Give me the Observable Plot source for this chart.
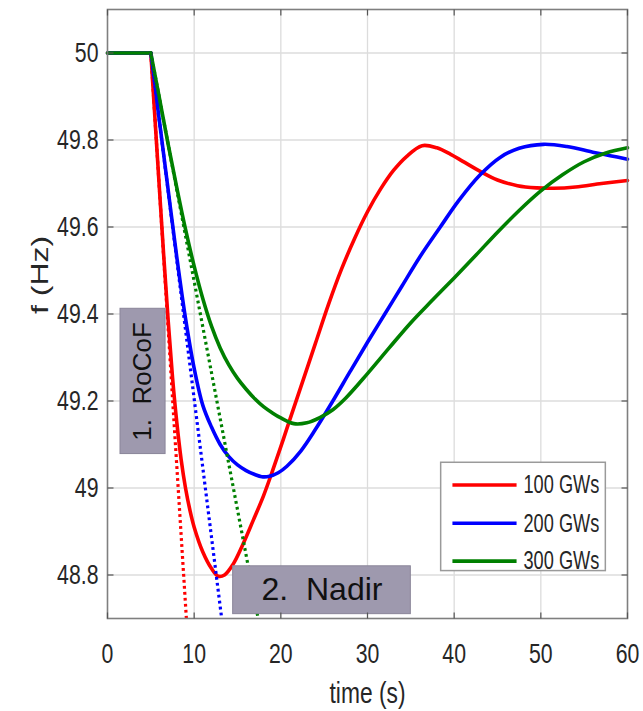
<!DOCTYPE html>
<html><head><meta charset="utf-8">
<script src="https://cdn.jsdelivr.net/npm/d3@7"></script>
<script src="https://cdn.jsdelivr.net/npm/@observablehq/plot@0.6"></script>
<style>
html,body{margin:0;padding:0;background:#fff;overflow:hidden}
svg text{white-space:pre}
</style>
</head><body><div id="chart"></div>
<script>
// ---- data ----
const series = ["100 GWs", "200 GWs", "300 GWs"];
const colors = ["#ff0000", "#0000ff", "#008000"];
// initial rate of change of frequency (tangent slope, Hz/s)
const rocof = [0.317, 0.159, 0.105];

const t100 = [0, 5, 5.5, 6, 6.5, 7, 7.5, 8, 8.5, 9, 9.5, 10, 11, 12, 12.8, 13.5, 14.5, 15.5, 16.8, 18, 19, 20, 21, 22.3, 24, 25.5, 27, 28.5, 30, 31.5, 33, 34.5, 36.3, 38, 39.6, 41, 43, 45, 47.3, 49.5, 51.5, 54, 57, 60];
const f100 = [50, 50, 49.842, 49.685, 49.53, 49.385, 49.255, 49.15, 49.065, 49.0, 48.95, 48.91, 48.853, 48.815, 48.797, 48.80, 48.825, 48.865, 48.925, 48.982, 49.037, 49.095, 49.155, 49.232, 49.333, 49.422, 49.503, 49.573, 49.635, 49.687, 49.73, 49.762, 49.787, 49.782, 49.767, 49.751, 49.728, 49.708, 49.695, 49.69, 49.689, 49.692, 49.70, 49.707];

const t200 = [0, 5, 6, 7, 8, 9, 10, 11, 12, 13, 14, 15, 16, 17, 17.8, 18.7, 19.7, 20.7, 22.3, 24, 26, 28, 30, 32, 34, 36, 38.4, 40.5, 43, 45.3, 47.5, 50.3, 53, 56, 58, 60];
const f200 = [50, 50, 49.842, 49.685, 49.53, 49.39, 49.275, 49.19, 49.14, 49.10, 49.072, 49.053, 49.04, 49.031, 49.026, 49.027, 49.035, 49.05, 49.085, 49.135, 49.2, 49.268, 49.335, 49.4, 49.465, 49.53, 49.6, 49.66, 49.72, 49.76, 49.781, 49.79, 49.785, 49.772, 49.764, 49.756];

const t300 = [0, 5, 6, 7, 8, 9, 10, 11, 12, 13, 14, 15, 16, 17, 18, 19, 20, 21.5, 23, 24.5, 26, 27.5, 30, 32.5, 35, 37.5, 40, 42.5, 45, 47.5, 50, 52.5, 55, 57.5, 60];
const f300 = [50, 50, 49.895, 49.79, 49.69, 49.595, 49.51, 49.435, 49.372, 49.322, 49.283, 49.252, 49.227, 49.205, 49.187, 49.173, 49.161, 49.148, 49.150, 49.162, 49.18, 49.207, 49.263, 49.322, 49.38, 49.432, 49.483, 49.535, 49.588, 49.638, 49.683, 49.72, 49.75, 49.77, 49.782];

const xTicks = [0, 10, 20, 30, 40, 50, 60];
const yTicks = [48.8, 49, 49.2, 49.4, 49.6, 49.8, 50];
const yTickLabels = ["48.8", "49", "49.2", "49.4", "49.6", "49.8", "50"];
const xLabel = "time (s)";
const yLabel = "f (Hz)";
const annotationLabels = ["1.  RoCoF", "2.  Nadir"];

// ---- layout (not data) ----
const xDomain = [0, 60], yDomain = [48.7, 50.1];
const annotationBoxes = [
  {x1: 1.5, x2: 6.7, y1: 49.078, y2: 49.412, rotate: -90, size: 26},
  {x1: 14.5, x2: 35.0, y1: 48.710, y2: 48.820, rotate: 0, size: 32}
];
const legendLayout = {x1: 38.5, x2: 57.5, y1: 48.809, y2: 49.058, lineX1: 39.8, lineX2: 47.2, textX: 48.0, rows: [49.007, 48.919, 48.832]};

// ---- build tables ----
const times = [t100, t200, t300], freqs = [f100, f200, f300];
const lineRows = [];
series.forEach((s, i) => {
  times[i].forEach((t, j) => {
    if (j <= 1) lineRows.push({series: s, seg: s + "-pre", t, f: freqs[i][j]});
    if (j >= 1) lineRows.push({series: s, seg: s + "-post", t, f: freqs[i][j]});
  });
});
const tangents = series.map((s, i) => {
  const t0 = times[i][1], f0 = freqs[i][1];
  return {series: s, x1: t0, y1: f0, x2: t0 + (f0 - yDomain[0]) / rocof[i], y2: yDomain[0]};
});
const annotations = annotationLabels.map((label, i) => ({label, ...annotationBoxes[i]}));
const legendRows = series.map((s, i) => ({series: s, y: legendLayout.rows[i]}));

const tickSym = (dx, dy) => ({draw(ctx) { ctx.moveTo(0, 0); ctx.lineTo(dx, dy); }});
const textColor = "#262626";
const axisGray = "#7f7f7f";

const chart = Plot.plot({
  width: 643, height: 711,
  marginLeft: 107, marginRight: 16, marginTop: 9, marginBottom: 93,
  style: {fontFamily: "'Liberation Sans', Arial, Helvetica, sans-serif", background: "#fff"},
  x: {domain: xDomain},
  y: {domain: yDomain},
  color: {domain: series, range: colors},
  marks: [
    Plot.ruleX(xTicks.slice(1, -1), {stroke: "#dcdcdc", strokeWidth: 1.3}),
    Plot.ruleY(yTicks, {stroke: "#dcdcdc", strokeWidth: 1.3}),
    Plot.line(lineRows, {x: "t", y: "f", z: "seg", stroke: "series", strokeWidth: 3.6, curve: "catmull-rom"}),
    Plot.link(tangents, {x1: "x1", y1: "y1", x2: "x2", y2: "y2", stroke: "series", strokeWidth: 3.2, strokeDasharray: "2.8,3.2", clip: true}),
    // annotation boxes
    Plot.rect(annotations, {x1: "x1", x2: "x2", y1: "y1", y2: "y2", fill: "#9e99ae", stroke: "#8a8599", strokeWidth: 1}),
    Plot.text(annotations, {x: d => (d.x1 + d.x2) / 2, y: d => (d.y1 + d.y2) / 2, text: "label", rotate: "rotate", fontSize: d => d.size, fill: "#111"}),
    // legend
    Plot.rect([legendLayout], {x1: "x1", x2: "x2", y1: "y1", y2: "y2", fill: "#fff", stroke: "#9a9a9a", strokeWidth: 1.5}),
    Plot.link(legendRows, {x1: legendLayout.lineX1, x2: legendLayout.lineX2, y1: "y", y2: "y", stroke: "series", strokeWidth: 3.6}),
    Plot.text(legendRows, {x: legendLayout.textX, y: "y", text: "series", textAnchor: "start", fontSize: 26, fill: textColor}),
    // frame + inward ticks
    Plot.frame({stroke: axisGray, strokeWidth: 1.6}),
    Plot.dot(xTicks, {x: d => d, frameAnchor: "bottom", symbol: tickSym(0, -6), stroke: "#555", fill: "none", strokeWidth: 1.2}),
    Plot.dot(xTicks, {x: d => d, frameAnchor: "top", symbol: tickSym(0, 6), stroke: "#555", fill: "none", strokeWidth: 1.2}),
    Plot.dot(yTicks, {y: d => d, frameAnchor: "left", symbol: tickSym(6, 0), stroke: "#555", fill: "none", strokeWidth: 1.2}),
    Plot.dot(yTicks, {y: d => d, frameAnchor: "right", symbol: tickSym(-6, 0), stroke: "#555", fill: "none", strokeWidth: 1.2}),
    // axes
    Plot.axisX(xTicks, {anchor: "bottom", tickSize: 0, tickPadding: 25, fontSize: 28, color: textColor, label: null}),
    Plot.axisY(yTicks, {anchor: "left", tickSize: 0, tickPadding: 9, fontSize: 28, color: textColor, label: null, tickFormat: d => yTickLabels[yTicks.indexOf(d)]}),
    Plot.text([xLabel], {frameAnchor: "bottom", dy: 63, lineAnchor: "top", text: d => d, fontSize: 30, fill: textColor}),
    Plot.text([yLabel], {frameAnchor: "left", dx: -67, rotate: -90, text: d => d, fontSize: 32, fill: textColor})
  ]
});

// narrow (horizontally compressed) lettering of the reference
chart.querySelectorAll("text").forEach(el => {
  const txt = el.textContent;
  if (annotationLabels.includes(txt)) return;
  const s = series.includes(txt) ? 0.7 : 0.76;
  const tr = el.getAttribute("transform") || "";
  const xa = parseFloat(el.getAttribute("x")) || 0;
  if (tr.includes("rotate")) el.setAttribute("transform", tr + ` scale(1,${s})`);
  else el.setAttribute("transform", tr + ` translate(${xa},0) scale(${s},1) translate(${-xa},0)`);
});

document.getElementById("chart").appendChild(chart);
</script>
</body></html>
